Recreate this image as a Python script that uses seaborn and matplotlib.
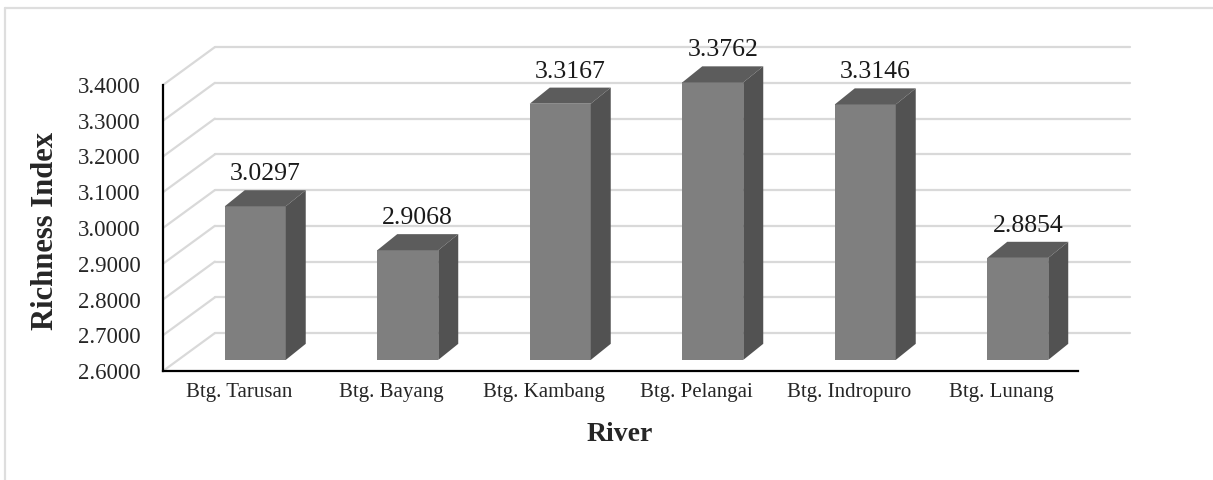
import matplotlib
matplotlib.use("Agg")
import matplotlib.pyplot as plt
from matplotlib.patches import Polygon
from matplotlib.lines import Line2D
import seaborn as sns
import pandas as pd

# data
rivers = ["Btg. Tarusan", "Btg. Bayang", "Btg. Kambang",
          "Btg. Pelangai", "Btg. Indropuro", "Btg. Lunang"]
richness = [3.0297, 2.9068, 3.3167, 3.3762, 3.3146, 2.8854]
y_ticks = [2.6, 2.7, 2.8, 2.9, 3.0, 3.1, 3.2, 3.3, 3.4]

df = pd.DataFrame({"River": rivers, "Richness Index": richness})

# pseudo-3d offsets (in data units)
Y0 = 2.6
DX0, DY0 = 0.105, 0.031      # bar front plane behind axis plane
DXB, DYB = 0.131, 0.045      # bar depth
DXW, DYW = 0.34, 0.106       # back wall

W, H, DPI = 1213, 480, 100
PX_X, PX_Y = 152.5, 357.5    # pixels per data unit
xlim = (-0.5, 5.5 + DXW + 0.02)
ylim = (Y0, 3.52)
left_px, bottom_px = 163, 371

sns.set_theme(style="white")
plt.rcParams["font.family"] = ["Liberation Serif", "DejaVu Serif"]

fig = plt.figure(figsize=(W / DPI, H / DPI), dpi=DPI)
ax_w = (xlim[1] - xlim[0]) * PX_X
ax_h = (ylim[1] - ylim[0]) * PX_Y
ax = fig.add_axes([left_px / W, (H - bottom_px) / H, ax_w / W, ax_h / H])

grid_c = "#d9d9d9"
x_first, x_last = -0.5, len(rivers) - 0.5
for v in y_ticks:
    ax.plot([x_first + DXW, x_last + DXW], [v + DYW, v + DYW], color=grid_c, lw=1.6, zorder=0)
    ax.plot([x_first, x_first + DXW], [v, v + DYW], color=grid_c, lw=1.6, zorder=0)

sns.barplot(data=df, x="River", y="Richness Index", order=rivers, color="#7f7f7f",
            width=0.4, saturation=1, ax=ax, zorder=2)

for p, v in zip(ax.patches, richness):
    p.set_x(p.get_x() + DX0)
    p.set_y(Y0 + DY0)
    p.set_height(v - Y0)
    p.set_edgecolor("none")
    x0, x1 = p.get_x(), p.get_x() + p.get_width()
    yb, yt = Y0 + DY0, v + DY0
    top = Polygon([(x0, yt), (x1, yt), (x1 + DXB, yt + DYB), (x0 + DXB, yt + DYB)],
                  closed=True, facecolor="#5c5c5c", edgecolor="none", zorder=3)
    side = Polygon([(x1, yb), (x1, yt), (x1 + DXB, yt + DYB), (x1 + DXB, yb + DYB)],
                   closed=True, facecolor="#525252", edgecolor="none", zorder=3)
    ax.add_patch(top)
    ax.add_patch(side)
    ax.text((x0 + x1) / 2 + DXB / 2, yt + DYB + 0.014, f"{v:.4f}",
            ha="center", va="bottom", fontsize=18.5, color="#1a1a1a", zorder=4)

ax.set_xlim(*xlim)
ax.set_ylim(*ylim)
ax.set_yticks(y_ticks)
ax.set_yticklabels([f"{t:.4f}" for t in y_ticks], fontsize=16.5)
ax.tick_params(axis="y", length=0, pad=16)
ax.tick_params(axis="x", length=0, pad=9, labelsize=15)

for s in ["top", "right"]:
    ax.spines[s].set_visible(False)
for s in ["left", "bottom"]:
    ax.spines[s].set_color("black")
    ax.spines[s].set_linewidth(1.6)
    ax.spines[s].set_zorder(5)
ax.spines["left"].set_bounds(Y0, y_ticks[-1])
ax.spines["bottom"].set_bounds(x_first, x_last)

ax.set_xlabel("River", fontsize=20, fontweight="bold")
ax.set_ylabel("Richness Index", fontsize=22, fontweight="bold")
ax.xaxis.set_label_coords((620 - left_px) / ax_w, -(422 - bottom_px) / ax_h)
ax.yaxis.set_label_coords((60 - left_px) / ax_w, (bottom_px - 231) / ax_h)

# chart area border (left and top edges visible)
fig.add_artist(Line2D([5 / W, 5 / W], [0, 1 - 8 / H], color="#dedede", lw=1.6))
fig.add_artist(Line2D([5 / W, 1], [1 - 8 / H, 1 - 8 / H], color="#dedede", lw=1.6))

fig.savefig("out.png", dpi=DPI)
